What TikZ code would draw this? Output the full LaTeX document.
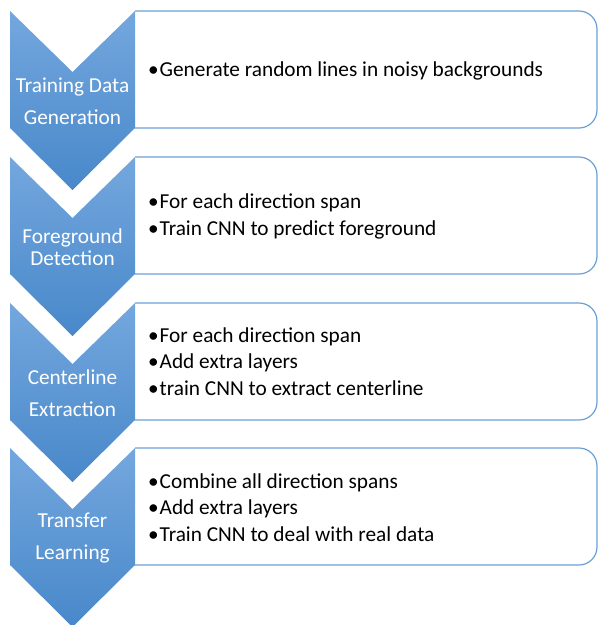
\documentclass[tikz,border=0pt]{standalone}
\usepackage{fontspec}
\setmainfont{Carlito}
\usepackage{tikz}
\definecolor{chevtop}{RGB}{116,167,222}
\definecolor{chevbot}{RGB}{72,136,202}
\definecolor{boxline}{RGB}{106,160,216}
\newcommand{\bul}{\makebox[11.5pt][l]{\textbullet}}
\tikzset{
	boxframe/.style={draw=boxline, line width=1.2pt, fill=white, rounded corners=18pt},
	chevtext/.style={text=white, align=center, inner sep=0pt, font=\fontsize{21.3}{32}\selectfont},
	bultext/.style={anchor=west, align=left, inner sep=0pt, font=\fontsize{21.3}{26.5}\selectfont}
}

\begin{document}
\begin{tikzpicture}[x=1pt,y=-1pt]
	\useasboundingbox (0,0) rectangle (598,625);
	\foreach \t in {11,157,303,448} {
		\draw[boxframe] (135,\t) -- (597,\t) -- (597,\t+117) -- (135,\t+117);
		\shade[top color=chevtop, bottom color=chevbot] (10,\t) -- (72.5,\t+61) -- (135,\t) -- (135,\t+117) -- (72.5,\t+179) -- (10,\t+117) -- cycle;}
	\node[chevtext] (gen) at (72.5,101) {Training Data\\Generation};
	\node[chevtext, font=\fontsize{21.3}{22.5}\selectfont] (fore) at (72.5,247) {Foreground\\Detection};
	\node[chevtext] (center) at (72.5,393) {Centerline\\Extraction};
	\node[chevtext] (transfer) at (72.5,538) {Transfer\\Learning};
	\node[bultext] (genlist) at (148,70.5) {\bul Generate random lines in noisy backgrounds};
	\node[bultext] (forelist) at (148,216.5) {\bul For each direction span\\\bul Train CNN to predict foreground};
	\node[bultext] (centerlist) at (148,361.5) {\bul For each direction span\\\bul Add extra layers\\\bul train CNN to extract centerline};
	\node[bultext] (transferlist) at (148,507.5) {\bul Combine all direction spans\\\bul Add extra layers\\\bul Train CNN to deal with real data};
\end{tikzpicture}
\end{document}
